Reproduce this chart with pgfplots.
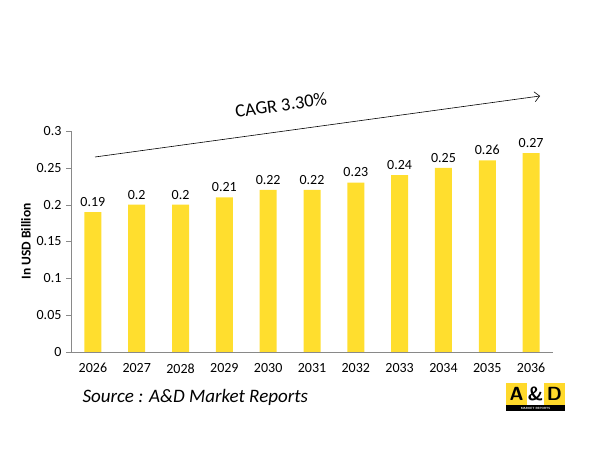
\documentclass[border=0pt]{standalone}
\usepackage{pgfplots}
\pgfplotsset{compat=1.18}
\usetikzlibrary{arrows.meta}
\usepackage{fontspec}
\setmainfont{Carlito}
\definecolor{baryel}{HTML}{FFDE2E}
\definecolor{axgray}{HTML}{898989}
\definecolor{logoyel}{HTML}{FFD92B}
\begin{document}
\begin{tikzpicture}[x=1pt,y=1pt]
\path[use as bounding box] (0,0) rectangle (593,457);
\begin{axis}[
  at={(71pt,105pt)}, anchor=south west,
  scale only axis, width=482pt, height=221pt,
  xmin=-0.5, xmax=10.5, ymin=0, ymax=0.3,
  axis x line=bottom, axis y line=left,
  axis line style={-, axgray},
  xtick={0,...,10},
  xticklabels={2026,2027,2028,2029,2030,2031,2032,2033,2034,2035,2036},
  major x tick style={draw=none},
  extra x ticks={-0.5,0.5,...,10.5},
  extra x tick labels={},
  extra x tick style={major tick length=5pt, tick align=outside, tick style={axgray}},
  ytick={0,0.05,0.1,0.15,0.2,0.25,0.3},
  yticklabels={0,0.05,0.1,0.15,0.2,0.25,0.3},
  y tick style={axgray}, major tick length=5pt, tick align=outside,
  tick label style={font=\fontsize{14}{16}\selectfont, black},
  xticklabel style={yshift=-3pt},
  yticklabel style={xshift=-1pt},
  ylabel={\textbf{In USD Billion}},
  every axis y label/.style={at={(-45pt,0.5)}, rotate=90, anchor=center, font=\fontsize{13.5}{15}\selectfont},
  ybar, bar width=17pt,
  nodes near coords,
  point meta=explicit symbolic,
  every node near coord/.append style={font=\fontsize{14}{16}\selectfont, black, yshift=2pt},
]
\addplot[fill=baryel, draw=none] coordinates {
(0,0.19) [0.19]
(1,0.20) [0.2]
(2,0.20) [0.2]
(3,0.21) [0.21]
(4,0.22) [0.22]
(5,0.22) [0.22]
(6,0.23) [0.23]
(7,0.24) [0.24]
(8,0.25) [0.25]
(9,0.26) [0.26]
(10,0.27) [0.27]
};
\end{axis}
% CAGR arrow
\draw[black, -{Straight Barb[length=5pt,width=10pt]}, line width=0.6pt] (95,300) -- (540,361);
\node[rotate=7.8, font=\fontsize{18.5}{20}\selectfont] at (281,352) {CAGR 3.30\%};
% source
\node[anchor=west, font=\fontsize{19}{21}\selectfont\itshape] at (79,60) {Source : A\&D Market Reports};
% logo
\fill[logoyel] (506,52) rectangle (565,74);
\fill[white] (527,52) rectangle (544,74);
\fill[black] (506,46) rectangle (565,52);
\node[font=\sffamily\bfseries\fontsize{19}{19}\selectfont, inner sep=0] at (516.5,63) {A};
\node[font=\sffamily\bfseries\fontsize{19}{19}\selectfont, inner sep=0] at (535.5,63) {\&};
\node[font=\sffamily\bfseries\fontsize{19}{19}\selectfont, inner sep=0] at (554.5,63) {D};
\node[font=\sffamily\bfseries\fontsize{3}{3}\selectfont, white, inner sep=0] at (535.5,49) {MARKET REPORTS};
\end{tikzpicture}
\end{document}
